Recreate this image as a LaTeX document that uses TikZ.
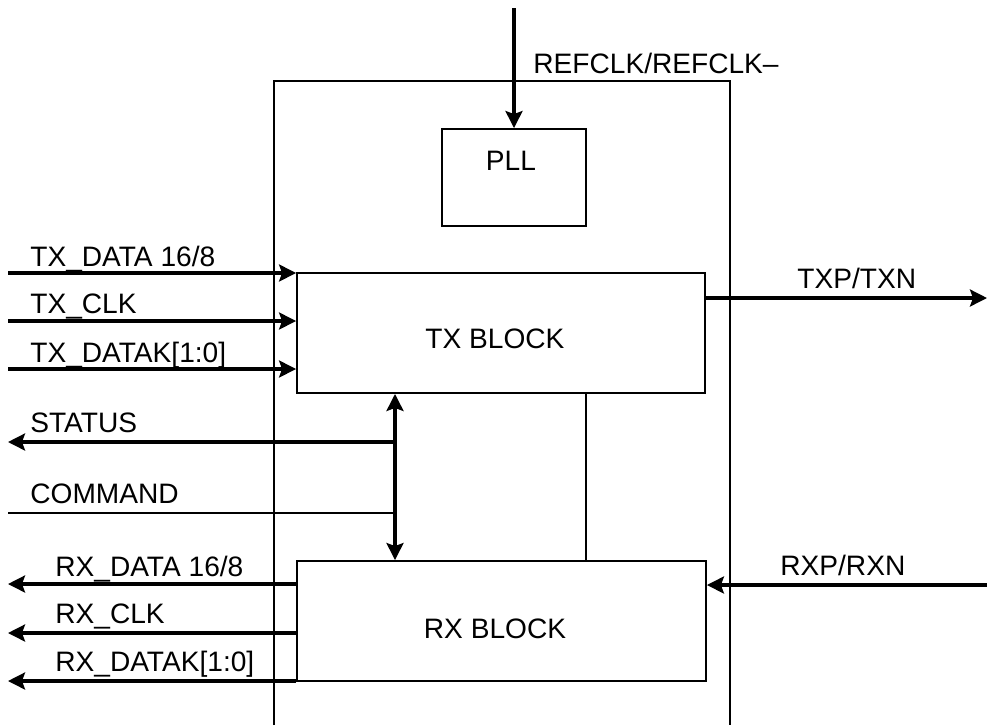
\documentclass[tikz,border=0pt]{standalone}
\usepackage{fontspec}
\setmainfont{Liberation Sans}
\usetikzlibrary{arrows.meta}
\tikzset{
  lbl/.style={inner sep=0pt, anchor=base west, font=\fontsize{16}{19}\selectfont},
  clbl/.style={inner sep=0pt, anchor=base, font=\fontsize{16}{19}\selectfont},
  blockbox/.style={draw, line width=1.1pt, inner sep=0pt},
  thickwire/.style={line width=1.8pt},
  thinwire/.style={line width=1.1pt},
  tip/.style={-{Stealth[length=0.34cm,width=0.34cm,inset=0.06cm]}},
  dtip/.style={{Stealth[length=0.34cm,width=0.34cm,inset=0.06cm]}-{Stealth[length=0.34cm,width=0.34cm,inset=0.06cm]}}
}
\begin{document}
\begin{tikzpicture}[x=0.02cm,y=-0.02cm]
\useasboundingbox (0,0) rectangle (987,725);
% outer chip (open at bottom)
\draw[thinwire] (274,725) -- (274,81) -- (730,81) -- (730,725);
% blocks
\node[blockbox, minimum width=2.88cm, minimum height=1.94cm] (pll) at (514,177.5) {};
\node[blockbox, minimum width=8.16cm, minimum height=2.4cm] (tx) at (501,333) {};
\node[blockbox, minimum width=8.18cm, minimum height=2.4cm] (rx) at (501.5,621) {};
\node[clbl] (plltxt) at (511,170) {PLL};
\node[clbl] (txtxt) at (495,348) {TX BLOCK};
\node[clbl] (rxtxt) at (495,638) {RX BLOCK};
% REFCLK
\coordinate (refsrc) at (514,8);
\draw[thickwire, tip] (refsrc) -- (pll.north);
\node[lbl] (reflbl) at (533,73) {REFCLK/REFCLK–};
% TX inputs
\coordinate (tin1) at (8,273);
\coordinate (tin2) at (8,321);
\coordinate (tin3) at (8,369);
\draw[thickwire, tip] (tin1) -- (tin1 -| tx.west);
\draw[thickwire, tip] (tin2) -- (tin2 -| tx.west);
\draw[thickwire, tip] (tin3) -- (tin3 -| tx.west);
\node[lbl] (l1) at (30,266) {TX\_DATA 16/8};
\node[lbl] (l2) at (30,313) {TX\_CLK};
\node[lbl] (l3) at (30,362) {TX\_DATAK[1:0]};
% TXP/TXN
\coordinate (txout) at (987,298);
\draw[thickwire, tip] (txout -| tx.east) -- (txout);
\node[lbl] (l4) at (797,288) {TXP/TXN};
% bus between TX and RX
\coordinate (busx) at (395,0);
\draw[thickwire, dtip] (busx |- tx.south) -- (busx |- rx.north);
\coordinate (linkx) at (586,0);
\draw[thinwire] (linkx |- tx.south) -- (linkx |- rx.north);
% STATUS / COMMAND
\coordinate (stat) at (8,442);
\coordinate (cmd) at (8,513);
\draw[thickwire, tip] (stat -| busx) -- (stat);
\draw[thinwire] (cmd) -- (cmd -| busx);
\node[lbl] (l5) at (30,432) {STATUS};
\node[lbl] (l6) at (30,503) {COMMAND};
% RX outputs
\coordinate (rout1) at (8,584);
\coordinate (rout2) at (8,633);
\coordinate (rout3) at (8,681);
\draw[thickwire, tip] (rout1 -| rx.west) -- (rout1);
\draw[thickwire, tip] (rout2 -| rx.west) -- (rout2);
\draw[thickwire, tip] (rout3 -| rx.west) -- (rout3);
\node[lbl] (l7) at (55,576) {RX\_DATA 16/8};
\node[lbl] (l8) at (55,623) {RX\_CLK};
\node[lbl] (l9) at (55,671) {RX\_DATAK[1:0]};
% RXP/RXN
\coordinate (rxin) at (987,585);
\draw[thickwire, tip] (rxin) -- (rxin -| rx.east);
\node[lbl] (l10) at (780,575) {RXP/RXN};
\end{tikzpicture}
\end{document}
